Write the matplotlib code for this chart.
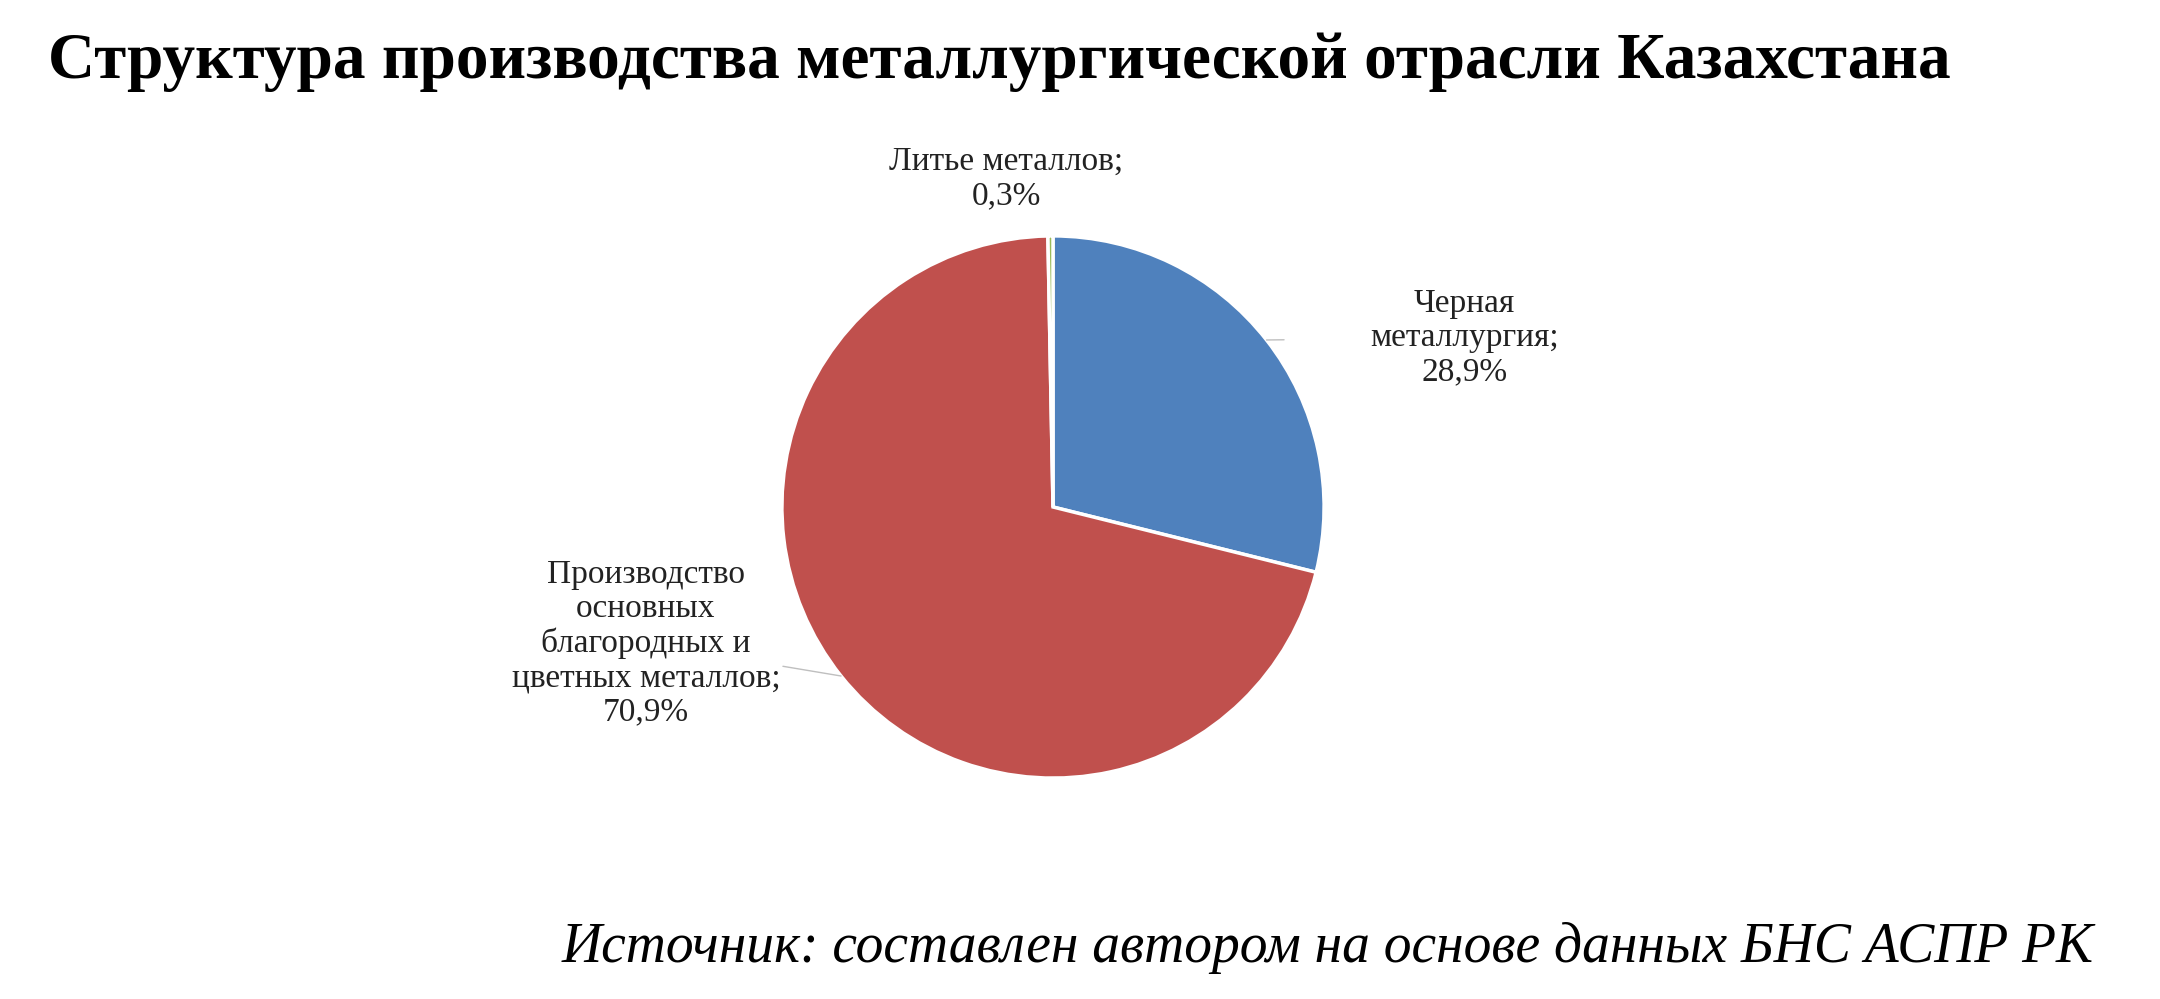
import numpy as np
import matplotlib

matplotlib.use("Agg")
import matplotlib.pyplot as plt

plt.rcParams["font.family"] = ["Liberation Serif", "DejaVu Serif"]

categorias = ["Черная\nметаллургия;\n28,9%",
              "Производство\nосновных\nблагородных и\nцветных металлов;\n70,9%",
              "Литье металлов;\n0,3%"]
valores = [28.9, 70.9, 0.3]
colores = ["#4F81BD", "#C0504D", "#9BBB59"]

fig = plt.figure(figsize=(21.6, 9.99), dpi=100)
ax = fig.add_axes([0.362, 0.221, 0.251, 0.543])
wedges, _ = ax.pie(valores, colors=colores, startangle=90, counterclock=False,
                   wedgeprops=dict(edgecolor="white", linewidth=2.5))
ax.set_xlim(-1, 1)
ax.set_ylim(-1, 1)
ax.set_aspect("equal")

# posiciones de etiquetas en coordenadas de figura
pos_texto = [(0.678, 0.662), (0.299, 0.356), (0.466, 0.821)]
for w, txt, (tx, ty) in zip(wedges, categorias, pos_texto):
    ang = np.deg2rad((w.theta1 + w.theta2) / 2)
    x, y = np.cos(ang), np.sin(ang)
    ax.annotate(txt, xy=(x, y), xycoords="data",
                xytext=(tx, ty), textcoords="figure fraction",
                ha="center", va="center", fontsize=24, color="#222222",
                linespacing=1.15,
                arrowprops=None if w is wedges[2] else dict(
                    arrowstyle="-", color="#BFBFBF", lw=1,
                    shrinkA=95 if w is wedges[1] else 60, shrinkB=0))

fig.text(0.022, 0.938, "Структура производства металлургической отрасли Казахстана",
         fontsize=47, fontweight="bold", ha="left", va="center")
fig.text(0.969, 0.051, "Источник: составлен автором на основе данных БНС АСПР РК",
         fontsize=40, style="italic", ha="right", va="center")

fig.savefig("out.png", dpi=100)
